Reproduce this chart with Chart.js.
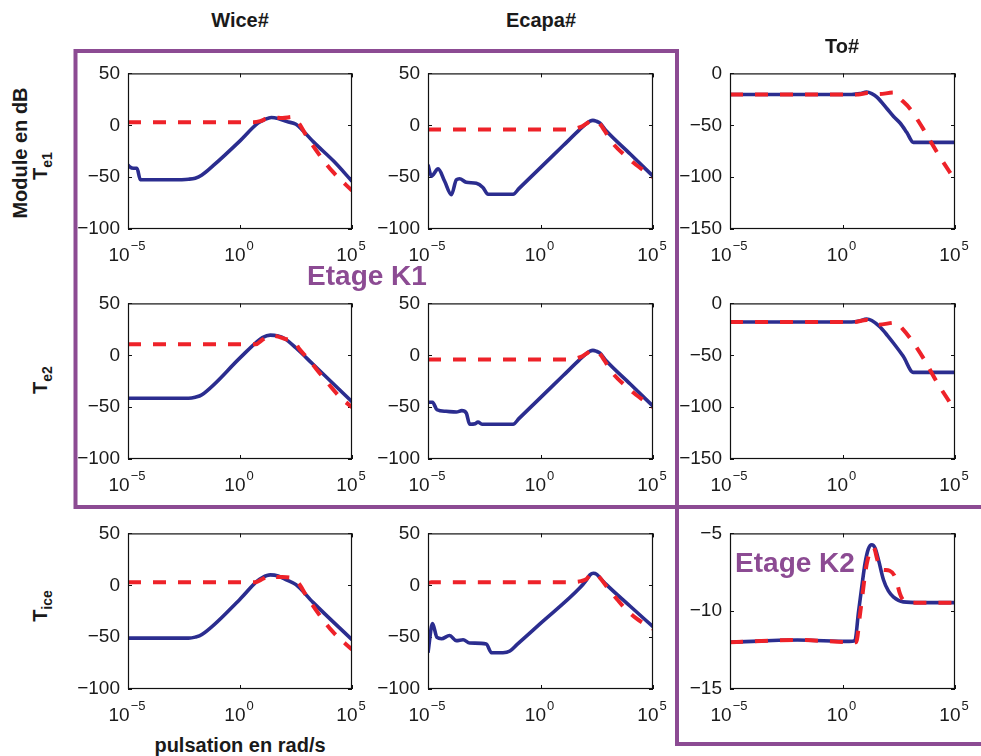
<!DOCTYPE html>
<html><head><meta charset="utf-8">
<script src="https://cdn.jsdelivr.net/npm/chart.js@4.4.1/dist/chart.umd.min.js"></script>
<style>
html,body{margin:0;padding:0;background:#fff;width:981px;height:756px;overflow:hidden;}
#wrap{position:relative;width:981px;height:756px;}
canvas{position:absolute;}
svg{position:absolute;left:0;top:0;}
.lbl{position:absolute;font-family:'Liberation Sans',Arial,sans-serif;font-weight:bold;font-size:20px;color:#1a1a1a;white-space:nowrap;line-height:1;transform:translate(-50%,-50%);}
.rot{transform:translate(-50%,-50%) rotate(-90deg);}
.etage{color:#8c4b93;font-size:28px;}
.lbl sub{font-size:14px;vertical-align:-5px;line-height:0;}
</style></head>
<body><div id="wrap">
<svg width="981" height="756">
 <rect x="75.5" y="51" width="601.5" height="456" fill="none" stroke="#8c4b93" stroke-width="4"/>
 <path d="M677 507 H981 M677 507 V744 H981" fill="none" stroke="#8c4b93" stroke-width="4"/>
</svg>
</div>
<script>
// ---------- data (x = log10 of pulsation in rad/s, y = module in dB) ----------
const xTicks = [1e-5, 1, 1e5];
const inputs = ['Wice#', 'Ecapa#', 'To#'];
const outputs = ['e1', 'e2', 'ice'];
const yRangeGain = [-100, 50];
const yRangeTo = [-150, 0];
const yRangeK2 = [-15, -5];

// Row T_e1
const wTe1BlueExp = [-5, -4.93, -4.75, -4.6, -4.45, -4.0, -3.0, -2.3, -2.0, -1.7, -1.2, 0, 0.8, 1.1, 1.4, 1.7, 2.1, 2.5, 2.8, 3.3, 4.2, 5];
const wTe1BlueDb  = [-38.4, -40, -41.5, -41.5, -52.5, -52.5, -52.5, -52, -51, -48, -39, -15, 2, 5.5, 7.5, 6.5, 3.5, 1, -5, -16.5, -35, -54];
const wTe1RedExp  = [-5, 0.6, 0.9, 1.2, 1.5, 1.9, 2.35, 2.6, 2.96, 3.56, 4.15, 5];
const wTe1RedDb   = [3, 3, 4, 6.5, 7.5, 7, 8, 3, -10, -29, -45, -63];

const eTe1BlueExp = [-5, -4.85, -4.55, -4.26, -3.96, -3.74, -3.6, -3.3, -2.85, -2.56, -2.33, -1.22, -0.95, 0, 1.0, 1.75, 2.04, 2.2, 2.33, 2.47, 2.63, 2.93, 4, 5];
const eTe1BlueDb  = [-38, -49, -42, -54, -67, -52.5, -51.5, -55, -56, -60, -66.5, -66.5, -60.8, -40.8, -19.8, -4, 1.6, 4, 4.7, 4, 2.2, -5.6, -28, -49];
const eTe1RedExp  = [-5, 1.25, 1.8, 2.04, 2.2, 2.33, 2.47, 2.63, 2.93, 3.2, 3.8, 4.55, 5];
const eTe1RedDb   = [-4, -4, -1.5, 1.6, 4, 4.7, 4, 1.5, -8, -17, -30, -43, -50];

const tTe1BlueExp = [-5, 0.4, 0.78, 1.07, 1.3, 1.53, 1.97, 2.27, 2.56, 2.86, 3.15, 5];
const tTe1BlueDb  = [-20.3, -20.3, -19.5, -18, -19.5, -22.8, -33.8, -41.6, -47.8, -57, -66.5, -66.5];
const tTe1RedExp  = [-5, 0.7, 1.1, 1.6, 2.27, 2.56, 3.0, 3.6, 4.2, 5];
const tTe1RedDb   = [-20.3, -20.3, -19, -20, -18.5, -24.4, -34, -54, -76, -103];

// Row T_e2
const wTe2BlueExp = [-5, -2.3, -2.0, -1.7, 0, 0.75, 1.0, 1.35, 1.7, 2.0, 2.5, 3.26, 5];
const wTe2BlueDb  = [-41.5, -41.5, -40.5, -38, -2.5, 13, 17, 19.4, 18.5, 16, 7, -8.7, -44.7];
const wTe2RedExp  = [-5, 0.7, 1.0, 1.35, 1.7, 2.07, 2.4, 2.65, 3.0, 3.7, 4.45, 5];
const wTe2RedDb   = [10.6, 10.6, 15, 19, 18, 15.5, 14, 6, -2.5, -21, -40, -50];

const eTe2BlueExp = [-5, -4.8, -4.6, -4.2, -3.74, -3.5, -3.3, -3.15, -2.9, -2.78, -2.6, -1.22, -0.95, 0, 1.0, 1.75, 2.04, 2.2, 2.33, 2.47, 2.63, 2.93, 4, 5];
const eTe2BlueDb  = [-45.3, -45.3, -52.5, -54, -54.7, -53.4, -55.6, -66.5, -66, -64.4, -66.5, -66.5, -60.8, -40.8, -19.8, -4, 1.6, 4, 4.7, 4, 2.2, -5.6, -28, -49];
const eTe2RedExp  = [-5, 1.25, 1.8, 2.04, 2.2, 2.33, 2.47, 2.63, 2.93, 3.2, 3.8, 4.55, 5];
const eTe2RedDb   = [-4, -4, -1.5, 1.6, 4, 4.7, 4, 1.5, -8, -17, -30, -43, -50];

const tTe2BlueExp = [-5, 0.4, 0.75, 1.07, 1.3, 1.67, 2.0, 2.27, 2.7, 3.15, 5];
const tTe2BlueDb  = [-18, -18, -17, -15, -16.5, -22.8, -31, -38.4, -51, -66.5, -66.5];
const tTe2RedExp  = [-5, 0.5, 1.07, 1.6, 2.37, 2.65, 3.0, 3.6, 4.2, 5];
const tTe2RedDb   = [-18, -18, -16, -20.5, -18.5, -24, -33.4, -53, -76, -103];

// Row T_ice
const wTiBlueExp = [-5, -2.3, -2.0, -1.7, 0, 0.75, 1.0, 1.35, 1.7, 2.07, 2.5, 3.26, 5];
const wTiBlueDb  = [-51, -51, -50, -47.5, -13.4, 3.75, 7.5, 10, 9, 5.3, 0.6, -16.5, -52.5];
const wTiRedExp  = [-5, 0.7, 1.0, 1.35, 1.7, 2.37, 2.65, 2.96, 3.56, 4.15, 5];
const wTiRedDb   = [3, 3, 6, 9.5, 8, 7, 1, -10, -29, -45, -62];

const eTiBlueExp = [-5, -4.8, -4.6, -4.4, -4.04, -3.74, -3.44, -3.15, -2.41, -2.18, -1.67, -1.36, -1.05, 0, 1.75, 2.04, 2.2, 2.35, 2.5, 2.65, 2.93, 4, 5];
const eTiBlueDb  = [-65, -37, -50.3, -51.5, -48.4, -53.4, -52.5, -55.6, -56.6, -65, -65, -63.4, -57.3, -36.8, -2.5, 5, 10, 11.6, 10.5, 7, 0.6, -20.5, -40];
const eTiRedExp  = [-5, -4.85, 1.25, 1.8, 2.04, 2.2, 2.35, 2.5, 2.65, 2.93, 3.4, 3.7, 4.26, 4.85, 5];
const eTiRedDb   = [2, 3, 3, 4, 6, 10, 11.6, 10.5, 7, -1, -13.4, -21, -32, -40, -42];

const tTiBlueExp = [-5, -2, 0.3, 0.55, 0.71, 0.86, 1.0, 1.15, 1.3, 1.45, 1.6, 1.82, 2.04, 2.27, 2.7, 3.5, 5];
const tTiBlueDb  = [-12, -11.85, -11.94, -11.9, -10.06, -8.4, -6.94, -6.0, -5.73, -5.95, -6.7, -7.98, -8.7, -9.1, -9.4, -9.45, -9.45];
const tTiRedExp  = [-5, -2, 0.6, 0.79, 1.08, 1.38, 1.55, 1.67, 1.85, 2.1, 2.34, 2.56, 2.7, 3, 5];
const tTiRedDb   = [-12, -11.85, -12, -10.06, -6.94, -5.9, -6.7, -7.25, -7.35, -7.4, -7.8, -8.9, -9.3, -9.45, -9.45];

// ---------- layout / styles ----------
const FONT = "'Liberation Sans', Arial, Helvetica, sans-serif";
const BLUE = '#2b2d8f';
const RED = '#ee2229';
const colLeft = [128, 428, 730], colRight = [352, 653, 955];
const rowTop = [69, 299, 529], rowBot = [229, 459, 689];
const PADL = 70, PADR = 25, PADT = 15, PADB = 40;

const panels = [
  {r:0,c:0,bx:wTe1BlueExp,by:wTe1BlueDb,rx:wTe1RedExp,ry:wTe1RedDb,yr:yRangeGain,st:50},
  {r:0,c:1,bx:eTe1BlueExp,by:eTe1BlueDb,rx:eTe1RedExp,ry:eTe1RedDb,yr:yRangeGain,st:50},
  {r:0,c:2,bx:tTe1BlueExp,by:tTe1BlueDb,rx:tTe1RedExp,ry:tTe1RedDb,yr:yRangeTo,st:50},
  {r:1,c:0,bx:wTe2BlueExp,by:wTe2BlueDb,rx:wTe2RedExp,ry:wTe2RedDb,yr:yRangeGain,st:50},
  {r:1,c:1,bx:eTe2BlueExp,by:eTe2BlueDb,rx:eTe2RedExp,ry:eTe2RedDb,yr:yRangeGain,st:50},
  {r:1,c:2,bx:tTe2BlueExp,by:tTe2BlueDb,rx:tTe2RedExp,ry:tTe2RedDb,yr:yRangeTo,st:50},
  {r:2,c:0,bx:wTiBlueExp,by:wTiBlueDb,rx:wTiRedExp,ry:wTiRedDb,yr:yRangeGain,st:50},
  {r:2,c:1,bx:eTiBlueExp,by:eTiBlueDb,rx:eTiRedExp,ry:eTiRedDb,yr:yRangeGain,st:50},
  {r:2,c:2,bx:tTiBlueExp,by:tTiBlueDb,rx:tTiRedExp,ry:tTiRedDb,yr:yRangeK2,st:5}
];

const toXY = (ex, db) => ex.map((e, i) => ({x: Math.pow(10, e), y: db[i]}));
const fmt = v => (v < 0 ? '\u2212' + Math.abs(v) : String(v));

const boxPlugin = {
  id: 'matBox',
  beforeDatasetsDraw(chart) {
    const ctx = chart.ctx, ca = chart.chartArea, xs = chart.scales.x, ys = chart.scales.y;
    ctx.save();
    ctx.strokeStyle = '#111'; ctx.lineWidth = 1;
    ctx.beginPath();
    xs.ticks.forEach(t => {
      const px = Math.round(xs.getPixelForValue(t.value)) + 0.5;
      ctx.moveTo(px, ca.bottom); ctx.lineTo(px, ca.bottom - 4);
      ctx.moveTo(px, ca.top); ctx.lineTo(px, ca.top + 4);
    });
    ys.ticks.forEach(t => {
      const py = Math.round(ys.getPixelForValue(t.value)) + 0.5;
      ctx.moveTo(ca.left, py); ctx.lineTo(ca.left + 4, py);
      ctx.moveTo(ca.right, py); ctx.lineTo(ca.right - 4, py);
    });
    ctx.stroke();
    ctx.restore();
  },
  afterDatasetsDraw(chart) {
    const ctx = chart.ctx, ca = chart.chartArea;
    ctx.save();
    ctx.strokeStyle = '#111'; ctx.lineWidth = 1.2;
    ctx.strokeRect(ca.left + 0.5, ca.top + 0.5, ca.right - ca.left - 1, ca.bottom - ca.top - 1);
    ctx.restore();
  },
  afterDraw(chart) {
    const ctx = chart.ctx, ca = chart.chartArea, xs = chart.scales.x;
    ctx.save();
    ctx.fillStyle = '#1a1a1a'; ctx.textBaseline = 'alphabetic'; ctx.textAlign = 'left';
    xs.ticks.forEach(t => {
      const px = xs.getPixelForValue(t.value);
      const e = Math.round(Math.log10(t.value));
      const es = e < 0 ? '\u2212' + (-e) : String(e);
      ctx.font = '19px ' + FONT; const wb = ctx.measureText('10').width;
      ctx.font = '13px ' + FONT; const we = ctx.measureText(es).width;
      const x0 = px - (wb + we + 1) / 2 - 1;
      ctx.font = '19px ' + FONT; ctx.fillText('10', x0, ca.bottom + 32);
      ctx.font = '13px ' + FONT; ctx.fillText(es, x0 + wb + 1, ca.bottom + 21);
    });
    ctx.restore();
  }
};

const wrap = document.getElementById('wrap');
panels.forEach(p => {
  const w = colRight[p.c] - colLeft[p.c], h = rowBot[p.r] - rowTop[p.r];
  const cv = document.createElement('canvas');
  cv.width = w + PADL + PADR; cv.height = h + PADT + PADB;
  cv.style.left = (colLeft[p.c] - PADL) + 'px';
  cv.style.top = (rowTop[p.r] - PADT) + 'px';
  cv.style.width = cv.width + 'px'; cv.style.height = cv.height + 'px';
  wrap.appendChild(cv);
  new Chart(cv, {
    type: 'line',
    data: { datasets: [
      { label: 'modèle réduit', data: toXY(p.rx, p.ry), borderColor: RED, borderWidth: 4, borderDash: [13, 12],
        pointRadius: 0, cubicInterpolationMode: 'monotone', fill: false, order: 0 },
      { label: 'modèle complet', data: toXY(p.bx, p.by), borderColor: BLUE, borderWidth: 3.6,
        pointRadius: 0, cubicInterpolationMode: 'monotone', fill: false, order: 1 }
    ]},
    options: {
      responsive: false, animation: false, events: [], devicePixelRatio: 1,
      layout: { padding: { left: 0, right: PADR, top: PADT, bottom: 0 } },
      plugins: { legend: { display: false }, tooltip: { enabled: false } },
      scales: {
        x: { type: 'logarithmic', min: 1e-5, max: 1e5,
             grid: { display: false, drawTicks: false }, border: { display: false },
             ticks: { display: false },
             afterBuildTicks: s => { s.ticks = xTicks.map(v => ({ value: v })); },
             afterFit: s => { s.height = PADB; } },
        y: { type: 'linear', min: p.yr[0], max: p.yr[1],
             grid: { display: false, drawTicks: false }, border: { display: false },
             ticks: { stepSize: p.st, padding: 8, color: '#1a1a1a', font: { size: 19, family: FONT }, callback: v => fmt(v) },
             afterFit: s => { s.width = PADL; } }
      }
    },
    plugins: [boxPlugin]
  });
});

// ---------- text labels ----------
function addLabel(html, x, y, cls) {
  const d = document.createElement('div');
  d.className = 'lbl' + (cls ? ' ' + cls : '');
  d.innerHTML = html;
  d.style.left = x + 'px'; d.style.top = y + 'px';
  wrap.appendChild(d);
}
const colCenter = [240, 541, 842], titleY = [19.5, 19.5, 46];
inputs.forEach((t, i) => addLabel(t, colCenter[i], titleY[i]));
addLabel('Module en dB', 20, 153, 'rot');
const rowLabelY = [166, 380, 606];
outputs.forEach((s, i) => addLabel('T<sub>' + s + '</sub>', 40, rowLabelY[i], 'rot'));
addLabel('pulsation en rad/s', 240, 745);
addLabel('Etage K1', 367, 276, 'etage');
addLabel('Etage K2', 795, 563, 'etage');
</script>
</body></html>
